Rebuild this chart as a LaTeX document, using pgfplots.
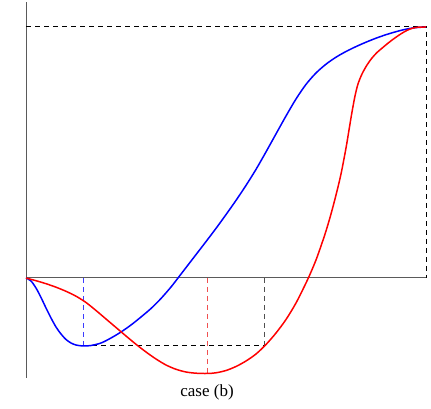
\documentclass[border=0pt]{standalone}
\usepackage{fontspec}
\setmainfont{Liberation Serif}
\usepackage{pgfplots}
\pgfplotsset{compat=1.18}

\definecolor{axisgray}{RGB}{90,90,90}
\definecolor{dashblue}{RGB}{60,60,255}
\definecolor{dashred}{RGB}{240,80,80}
\definecolor{dashgray}{RGB}{80,80,80}

\begin{document}
\begin{tikzpicture}
\begin{axis}[
    scale only axis,
    width=431pt, height=409pt,
    xmin=-26, xmax=405,
    ymin=-131, ymax=278,
    axis lines=none,
    clip=false,
]
% axes
\addplot[axisgray, line width=1pt] coordinates {(0,-100) (0,276)};
\addplot[axisgray, line width=1pt] coordinates {(0,0) (401,0)};

% guide lines
\addplot[black, line width=1pt, dash pattern=on 5pt off 4pt] coordinates {(0,251) (400,251) (400,0)};
\addplot[dashblue, line width=1pt, dash pattern=on 5pt off 4pt] coordinates {(57,0) (57,-68)};
\addplot[black, line width=1pt, dash pattern=on 5pt off 4pt] coordinates {(57,-68) (238,-68)};
\addplot[dashgray, line width=1pt, dash pattern=on 5pt off 4pt] coordinates {(238,0) (238,-68)};
\addplot[dashred, line width=1pt, dash pattern=on 5pt off 4pt] coordinates {(181,0) (181,-95)};

% blue curve
\addplot[blue, line width=1.5pt, smooth] coordinates {
(0,0) (5,-3) (10,-10) (15,-19.5) (20,-30) (25,-40) (30,-49) (35,-56)
(40,-61.5) (45,-65) (50,-67) (57,-68) (65,-67.5) (75,-65) (85,-60)
(95,-54) (105,-47) (115,-39) (125,-30.5) (135,-20.5) (145,-9) (152,0)
(160,10.4) (170,23.4) (180,36.4) (190,49.6) (200,63.4) (210,77.6)
(220,92.6) (230,108.6) (240,126.1) (250,144.1) (260,162) (270,179)
(280,193.6) (290,205) (300,213.8) (310,220.8) (320,226.5) (330,231.4)
(340,235.8) (350,239.8) (360,243.3) (370,246.3) (380,248.8) (390,250.4)
(400,251)};

% red curve
\addplot[red, line width=1.5pt, smooth] coordinates {
(0,0) (10,-2.7) (20,-5.7) (30,-9.2) (40,-13.3) (50,-18.2) (60,-24.5)
(70,-32.5) (80,-41) (90,-49.5) (100,-58) (110,-66.3) (120,-74)
(130,-81) (140,-87) (150,-91.3) (160,-94) (170,-95.2) (181,-95.5)
(190,-94.8) (200,-92.5) (210,-88.5) (220,-83) (230,-76) (240,-66.5)
(250,-55) (260,-41.5) (270,-25) (280,-5) (285,6) (290,18) (295,32)
(300,47) (305,64) (310,83) (315,104) (320,130) (323,148) (326,166)
(329,182) (332,194) (336,204) (341,213) (346,220) (351,225.5)
(356,229.8) (361,234) (366,237.9) (371,241.5) (376,244.8) (381,247.6)
(386,249.6) (392,250.8) (400,251)};

\node[font=\fontsize{17}{20}\selectfont] at (axis cs:181,-114) {case (b)};
\end{axis}
\path (current axis.south west) rectangle (current axis.north east);
\end{tikzpicture}
\end{document}
